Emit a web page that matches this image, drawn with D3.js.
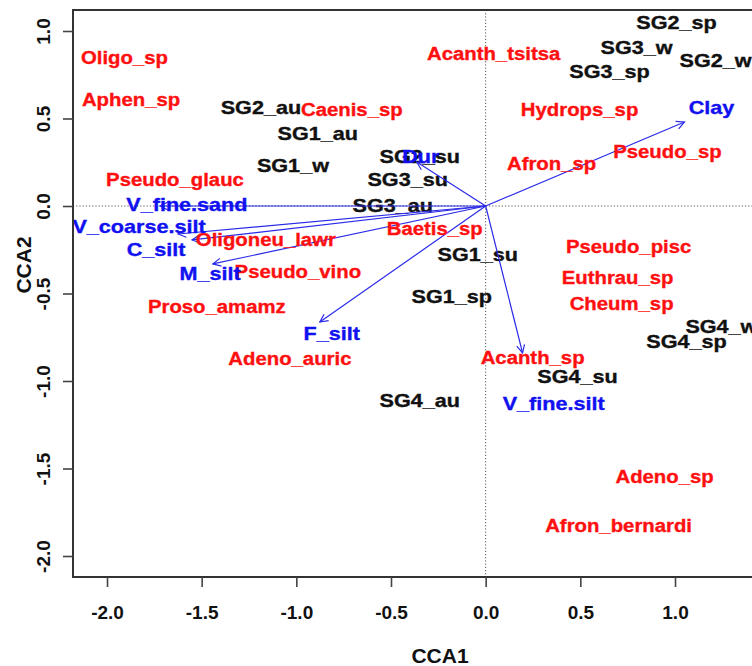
<!DOCTYPE html>
<html>
<head>
<meta charset="utf-8">
<script src="https://cdn.jsdelivr.net/npm/d3@7"></script>
<style>
  html, body { margin: 0; padding: 0; background: #fff; }
  svg { display: block; font-family: "Liberation Sans", Arial, sans-serif; font-weight: bold; }
</style>
</head>
<body>
<svg id="chart" width="752" height="666"></svg>
<script>
// ---- Data (CCA scores) ----
const xTicks = [-2.0, -1.5, -1.0, -0.5, 0.0, 0.5, 1.0];
const yTicks = [1.0, 0.5, 0.0, -0.5, -1.0, -1.5, -2.0];

// Site scores (black)
const siteNames = ["SG2_au","SG1_au","SG1_w","SG2_su","SG3_su","SG3_au","SG2_sp","SG3_w","SG2_w","SG3_sp","SG1_su","SG1_sp","SG4_w","SG4_sp","SG4_su","SG4_au"];
const siteX = [-1.187,-0.887,-1.018,-0.348,-0.412,-0.491,1.008,0.797,1.214,0.654,-0.042,-0.179,1.245,1.061,0.485,-0.348];
const siteY = [0.560,0.417,0.229,0.280,0.149,0.000,1.046,0.903,0.829,0.771,-0.280,-0.520,-0.691,-0.777,-0.977,-1.109];

// Species scores (red)
const speciesNames = ["Oligo_sp","Aphen_sp","Caenis_sp","Pseudo_glauc","Acanth_tsitsa","Hydrops_sp","Afron_sp","Pseudo_sp","Oligoneu_lawr","Pseudo_vino","Proso_amamz","Adeno_auric","Baetis_sp","Pseudo_pisc","Euthrau_sp","Cheum_sp","Acanth_sp","Adeno_sp","Afron_bernardi"];
const speciesX = [-1.908,-1.873,-0.707,-1.641,0.042,0.496,0.348,0.960,-1.161,-0.992,-1.420,-1.034,-0.269,0.755,0.697,0.718,0.248,0.945,0.702];
const speciesY = [0.851,0.611,0.549,0.149,0.874,0.554,0.240,0.314,-0.189,-0.377,-0.577,-0.869,-0.131,-0.234,-0.406,-0.560,-0.863,-1.543,-1.823];

// Environmental biplot arrows (blue): arrow tips and label positions
const envNames = ["Clay","Dur","V_fine.sand","V_coarse.silt","C_silt","M_silt","F_silt","V_fine.silt"];
const envX = [1.050,-0.364,-1.720,-1.625,-1.551,-1.441,-0.876,0.195];
const envY = [0.480,0.251,0.000,-0.160,-0.194,-0.331,-0.663,-0.840];
const envLabelX = [1.193,-0.343,-1.578,-1.831,-1.741,-1.456,-0.813,0.359];
const envLabelY = [0.560,0.280,0.006,-0.120,-0.246,-0.383,-0.731,-1.131];

// ---- Build ----
const svg = d3.select("#chart");
const W = 752, H = 666;
const x = d3.scaleLinear().domain([-2, 1]).range([107, 675]);
const y = d3.scaleLinear().domain([-2, 1]).range([556, 31]);
const plotLeft = 73, plotTop = 10, plotBottom = 577, plotRight = 812;

svg.append("rect").attr("width", W).attr("height", H).attr("fill", "#fff");

const defs = svg.append("defs");
defs.append("clipPath").attr("id", "clip")
  .append("rect").attr("x", plotLeft).attr("y", plotTop)
  .attr("width", plotRight - plotLeft).attr("height", plotBottom - plotTop);
defs.append("marker").attr("id", "arrowhead")
  .attr("viewBox", "-10 -6 12 12").attr("refX", 0).attr("refY", 0)
  .attr("markerWidth", 12).attr("markerHeight", 12)
  .attr("markerUnits", "userSpaceOnUse").attr("orient", "auto")
  .append("path").attr("d", "M-8,-4 L0,0 L-8,4")
  .attr("fill", "none").attr("stroke", "#2a2ae8").attr("stroke-width", 1.2);

const plot = svg.append("g").attr("clip-path", "url(#clip)");

// zero reference lines (dotted)
plot.append("line").attr("x1", plotLeft).attr("x2", plotRight)
  .attr("y1", y(0)).attr("y2", y(0))
  .attr("stroke", "#555").attr("stroke-width", 1).attr("stroke-dasharray", "1.2,2");
plot.append("line").attr("x1", x(0)).attr("x2", x(0))
  .attr("y1", plotTop).attr("y2", plotBottom)
  .attr("stroke", "#555").attr("stroke-width", 1).attr("stroke-dasharray", "1.2,2");

function addLabels(g, names, xs, ys, color, stretch, size) {
  g.selectAll(null).data(names).join("text")
    .attr("transform", (d, i) => `translate(${x(xs[i])},${y(ys[i])}) scale(${stretch},1)`)
    .attr("text-anchor", "middle").attr("dy", "0.36em")
    .attr("font-size", size).attr("fill", color)
    .attr("stroke", color).attr("stroke-width", 0.35)
    .text(d => d);
}

// site labels (black)
addLabels(plot.append("g"), siteNames, siteX, siteY, "#111", 1.2, 18);

// arrows
plot.append("g").selectAll("line").data(envNames).join("line")
  .attr("x1", x(0)).attr("y1", y(0))
  .attr("x2", (d, i) => x(envX[i])).attr("y2", (d, i) => y(envY[i]))
  .attr("stroke", "#2a2ae8").attr("stroke-width", 1.2)
  .attr("marker-end", "url(#arrowhead)");

// species labels (red)
addLabels(plot.append("g"), speciesNames, speciesX, speciesY, "#ff1010", 1.13, 18);

// env labels (blue)
addLabels(plot.append("g"), envNames, envLabelX, envLabelY, "#1010f0", 1.2, 18);

// frame
svg.append("rect").attr("x", plotLeft).attr("y", plotTop)
  .attr("width", plotRight - plotLeft).attr("height", plotBottom - plotTop)
  .attr("fill", "none").attr("stroke", "#333").attr("stroke-width", 2);

// axes
const fmt = d => d.toFixed(1);
const xAxis = svg.append("g").attr("transform", `translate(0,${plotBottom})`)
  .call(d3.axisBottom(x).tickValues(xTicks).tickFormat(fmt).tickSize(10).tickPadding(19));
const yAxis = svg.append("g").attr("transform", `translate(${plotLeft},0)`)
  .call(d3.axisLeft(y).tickValues(yTicks).tickFormat(fmt).tickSize(10));
[xAxis, yAxis].forEach(a => {
  a.select(".domain").remove();
  a.selectAll(".tick line").attr("stroke", "#444").attr("stroke-width", 1.6);
  a.selectAll("text").attr("font-size", 19).attr("fill", "#111")
    .attr("font-family", "'Liberation Sans', Arial, sans-serif").attr("font-weight", "bold");
});
yAxis.selectAll(".tick text")
  .attr("x", 0).attr("dy", "0.36em").attr("text-anchor", "middle")
  .attr("transform", "translate(-30,0) rotate(-90)");

// axis titles
svg.append("text").attr("x", 440).attr("y", 655).attr("dy", "0.36em")
  .attr("text-anchor", "middle").attr("font-size", 21).attr("fill", "#111").text("CCA1");
svg.append("text").attr("transform", "translate(23,265) rotate(-90)").attr("dy", "0.36em")
  .attr("text-anchor", "middle").attr("font-size", 21).attr("fill", "#111").text("CCA2");
</script>
</body>
</html>
